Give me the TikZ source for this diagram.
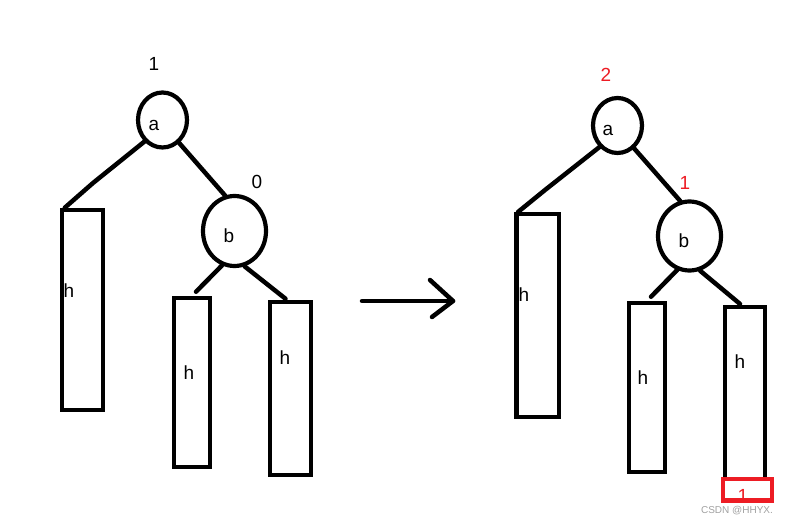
\documentclass[tikz,border=0pt]{standalone}
\usepackage{fontspec}
\setmainfont{Liberation Sans}
\usetikzlibrary{shapes.geometric}
\definecolor{pred}{RGB}{237,28,36}
\definecolor{wm}{RGB}{160,160,160}
\tikzset{
  circ/.style={ellipse, draw, line width=4.2pt, inner sep=0pt},
  bar/.style={rectangle, draw, line width=4.5pt, inner sep=0pt},
  edge/.style={line width=4.5pt, line cap=round},
  txt/.style={inner sep=0pt, font=\fontsize{19}{19}\selectfont},
  rtxt/.style={txt, text=pred},
  redbox/.style={rectangle, draw=pred, line width=4.5pt, inner sep=0pt},
}
\begin{document}
\begin{tikzpicture}[x=1pt,y=-1pt]
\useasboundingbox (0,0) rectangle (786,526);
% ---------- left tree ----------
\node[circ, minimum width=49pt, minimum height=55pt] (a1) at (162.5,120) {};
\node[circ, minimum width=63pt, minimum height=70pt] (b1) at (234.5,231) {};
\node[bar, minimum width=41pt, minimum height=200pt] (L1) at (82.5,310) {};
\node[bar, minimum width=36pt, minimum height=169pt] (M1) at (192,382.5) {};
\node[bar, minimum width=41pt, minimum height=173pt] (R1) at (290.5,388.5) {};
\node[txt] (ta1) at (154,125) {a};
\node[txt] (tb1) at (229,236) {b};
\node[txt] (tL1) at (69,291) {h};
\node[txt] (tM1) at (189,373) {h};
\node[txt] (tR1) at (285,358) {h};
\node[txt] (n1) at (154,64) {1};
\node[txt] (n0) at (257,182) {0};
\coordinate (k1) at (93,183);
\draw[edge] (a1.230) -- (k1) -- ([xshift=5pt]L1.north west);
\draw[edge] (a1.-54) -- (b1.105);
\draw[edge] (b1.250) -- ([xshift=4pt,yshift=4pt]M1.north);
\draw[edge] (b1.-74) -- ([xshift=-5pt,yshift=1pt]R1.north);
% ---------- arrow ----------
\coordinate (arS) at (362,301);
\coordinate (arE) at (453,301);
\coordinate (arU) at (430,280);
\coordinate (arD) at (432,317);
\draw[edge] (arS) -- (arE);
\draw[edge, line join=round] (arU) -- (arE) -- (arD);
% ---------- right tree ----------
\node[circ, minimum width=49pt, minimum height=55pt] (a2) at (617.5,125.5) {};
\node[circ, minimum width=63pt, minimum height=69pt] (b2) at (689.5,236) {};
\node[bar, minimum width=42.5pt, minimum height=202.5pt] (L2) at (537.5,315.5) {};
\node[bar, minimum width=36pt, minimum height=169pt] (M2) at (647,387.5) {};
\node[bar, minimum width=40pt, minimum height=172pt] (R2) at (745,393.2) {};
\node[rtxt] (n1b) at (743,496) {1};
\node[redbox, minimum width=49pt, minimum height=21.5pt] (rb) at (747.5,489.7) {};
\node[txt] (ta2) at (608,130) {a};
\node[txt] (tb2) at (684,241) {b};
\node[txt] (tL2) at (524,295) {h};
\node[txt] (tM2) at (643,378) {h};
\node[txt] (tR2) at (740,362) {h};
\node[rtxt] (n2) at (606,75) {2};
\node[rtxt] (n1r) at (685,183) {1};
\coordinate (k2) at (545,190);
\draw[edge] (a2.230) -- (k2) -- ([xshift=4pt]L2.north west);
\draw[edge] (a2.-54) -- (b2.105);
\draw[edge] (b2.250) -- ([xshift=4pt,yshift=4pt]M2.north);
\draw[edge] (b2.-73) -- ([xshift=-5pt,yshift=1pt]R2.north);
% ---------- watermark ----------
\node[inner sep=0pt, text=wm, font=\fontsize{10}{10}\selectfont] (wmk) at (737,510.5) {CSDN @HHYX.};
\end{tikzpicture}
\end{document}
